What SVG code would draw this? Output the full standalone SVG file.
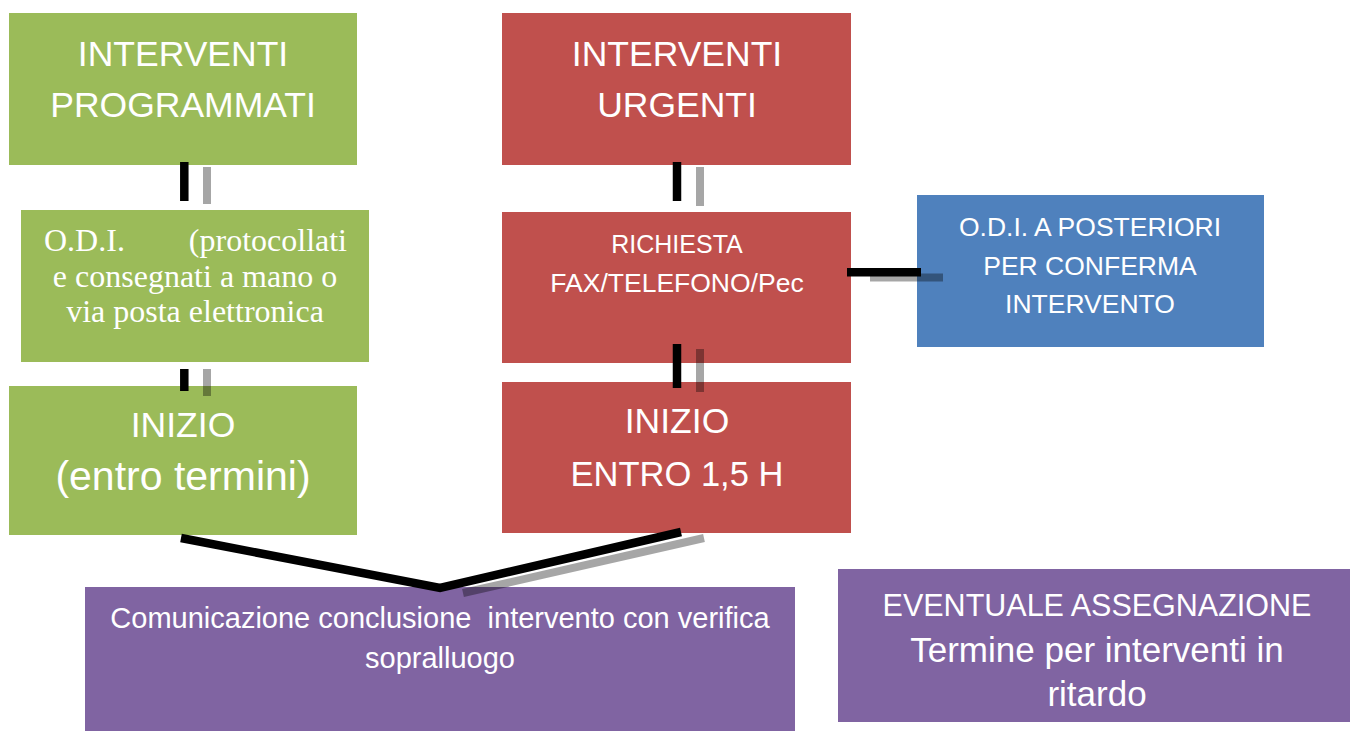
<svg xmlns="http://www.w3.org/2000/svg" width="1350" height="731" viewBox="0 0 1350 731">
<style>
.green{fill:#9BBB59}
.red{fill:#C0504D}
.blue{fill:#4F81BD}
.purple{fill:#8064A2}
text{fill:#FFFFFF;font-family:"Liberation Sans",Arial,sans-serif;text-anchor:middle}
.big{font-size:35.5px}
.mid{font-size:26.5px}
.serif{font-family:"Liberation Serif","Times New Roman",serif;font-size:32px}
.conn{stroke:#000000;stroke-width:8.5;fill:none}
.shadow{stroke:#000000;stroke-opacity:0.35;stroke-width:8;fill:none}
</style>
<rect width="1350" height="731" fill="#FFFFFF"/>
<g id="programmati">
<rect class="green" x="9" y="13" width="348" height="152"/>
<text class="big" x="183" y="66">INTERVENTI</text>
<text class="big" x="183" y="117">PROGRAMMATI</text>
</g>
<g id="odi">
<rect class="green" x="21" y="210" width="348" height="152"/>
<text class="serif" x="44" y="251" style="text-anchor:start">O.D.I.</text>
<text class="serif" x="347" y="251" style="text-anchor:end">(protocollati</text>
<text class="serif" x="195" y="287">e consegnati a mano o</text>
<text class="serif" x="195" y="322">via posta elettronica</text>
</g>
<g id="inizio-programmati">
<rect class="green" x="9" y="386" width="348" height="149"/>
<text class="big" x="183" y="437">INIZIO</text>
<text class="big" x="183" y="490" style="font-size:41px">(entro termini)</text>
</g>
<g id="urgenti">
<rect class="red" x="502" y="13" width="349" height="152"/>
<text class="big" x="677" y="66">INTERVENTI</text>
<text class="big" x="677" y="117">URGENTI</text>
</g>
<g id="richiesta">
<rect class="red" x="502" y="212" width="349" height="151"/>
<text class="mid" x="677" y="253" style="font-size:25px">RICHIESTA</text>
<text class="mid" x="677" y="292">FAX/TELEFONO/Pec</text>
</g>
<g id="inizio-urgenti">
<rect class="red" x="502" y="382" width="349" height="151"/>
<text class="big" x="677" y="433">INIZIO</text>
<text class="big" x="677" y="486" style="font-size:34.5px">ENTRO 1,5 H</text>
</g>
<g id="odi-posteriori">
<rect class="blue" x="917" y="195" width="347" height="152"/>
<text class="mid" x="1090" y="236">O.D.I. A POSTERIORI</text>
<text class="mid" x="1090" y="275">PER CONFERMA</text>
<text class="mid" x="1090" y="313">INTERVENTO</text>
</g>
<g id="comunicazione">
<rect class="purple" x="85" y="587" width="710" height="144"/>
<text x="440" y="628" style="font-size:29px" xml:space="preserve">Comunicazione conclusione  intervento con verifica</text>
<text x="440" y="668" style="font-size:29px">sopralluogo</text>
</g>
<g id="eventuale">
<rect class="purple" x="838" y="569" width="512" height="153"/>
<text x="1097" y="616" style="font-size:30.5px">EVENTUALE ASSEGNAZIONE</text>
<text x="1097" y="662" style="font-size:35px">Termine per interventi in</text>
<text x="1097" y="706" style="font-size:35px">ritardo</text>
</g>
<g id="connectors">
<line class="shadow" x1="207" y1="167" x2="207" y2="204"/>
<line class="shadow" x1="700" y1="167" x2="700" y2="206"/>
<line class="shadow" x1="207" y1="369" x2="207" y2="396"/>
<line class="shadow" x1="700" y1="349" x2="700" y2="392"/>
<line class="shadow" x1="870" y1="277.5" x2="943" y2="277.5"/>
<polyline class="shadow" points="463,593 704,538"/>
<line class="conn" x1="184.3" y1="162" x2="184.3" y2="201"/>
<line class="conn" x1="677" y1="162" x2="677" y2="201"/>
<line class="conn" x1="184.3" y1="369" x2="184.3" y2="391"/>
<line class="conn" x1="677" y1="344" x2="677" y2="388"/>
<line class="conn" x1="847" y1="272.3" x2="921" y2="272.3"/>
<polyline class="conn" points="181,538 440,588 681,532" stroke-linejoin="miter"/>
</g>
</svg>
